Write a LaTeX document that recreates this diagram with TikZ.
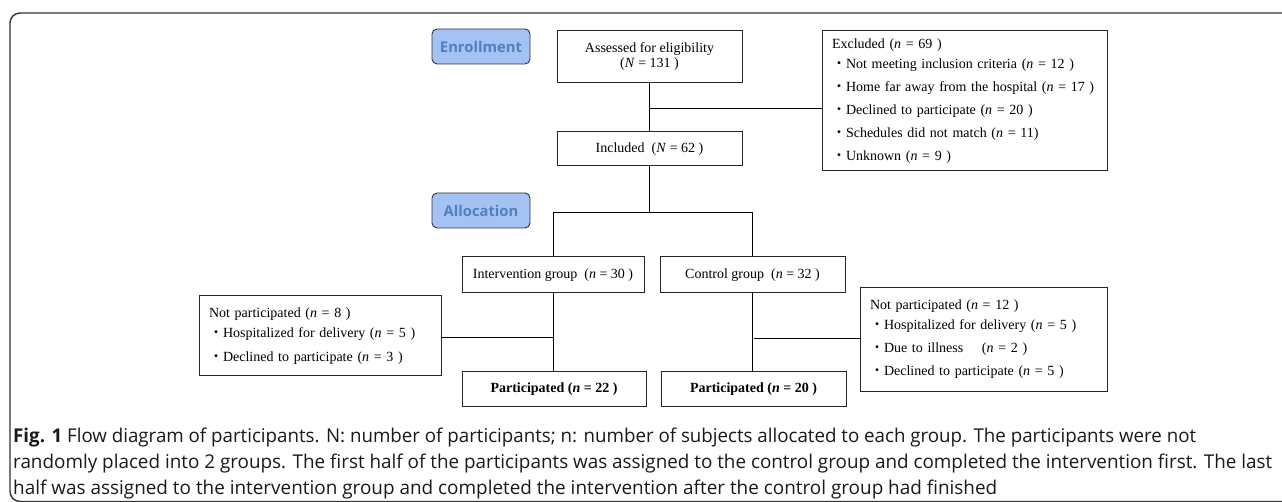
\documentclass[tikz,border=0pt]{standalone}
\usepackage{fontspec}
\usepackage{graphicx}
\setmainfont{Liberation Serif}
\newfontfamily\capfont{Open Sans}
\newfontfamily\badgefont{Open Sans}
\newfontfamily\cjk{Noto Sans CJK JP}
\definecolor{badgefill}{RGB}{164,194,244}
\definecolor{badgetext}{RGB}{79,129,189}
\newcommand{\bul}{{\cjk ・}}
\newcommand{\nn}{\textit{n}}
\begin{document}
\begin{tikzpicture}[x=1pt,y=-1pt,
  box/.style={draw=black!85, line width=1pt, fill=white, inner sep=0pt, align=center,
    font=\fontsize{14}{15}\selectfont},
  listbox/.style={draw=black!85, line width=1pt, fill=white, inner sep=0pt, align=left},
  badge/.style={draw=black!80, line width=0.9pt, fill=badgefill, rounded corners=5pt,
    text=badgetext, font=\badgefont\bfseries\fontsize{14.8}{16}\selectfont,
    minimum width=98pt, minimum height=35pt, inner sep=0pt},
  conn/.style={draw=black, line width=0.8pt},
  captext/.style={anchor=base west, inner sep=0pt, text=black!90, font=\capfont\fontsize{19}{22}\selectfont}]
\useasboundingbox (0,0) rectangle (1282,502);
\clip (0,0) rectangle (1282,502);
% frame
\draw[line width=1.4pt, black!80, rounded corners=10pt] (10,13) rectangle (1310,501.5);
% badges
\node[badge] (enr) at (481,46.5) {Enrollment};
\node[badge] (alloc) at (481,210.5) {Allocation};
% main boxes
\node[box, minimum width=185pt, minimum height=52pt] (assess) at (649.5,57) {Assessed for eligibility\\(\textit{N} = 131 )};
\node[box, minimum width=185pt, minimum height=34pt] (incl) at (649.5,149) {Included\ \ (\textit{N} = 62 )};
\node[listbox, minimum width=285pt, minimum height=140pt, text width=265pt,
  font=\fontsize{14}{23}\selectfont] (excl) at (964.5,101)
  {Excluded (\nn\ = 69 )\\[-3pt]
   \bul Not meeting inclusion criteria (\nn\ = 12 )\\
   \bul Home far away from the hospital (\nn\ = 17 )\\
   \bul Declined to participate (\nn\ = 20 )\\
   \bul Schedules did not match (\nn\ = 11)\\
   \bul Unknown (\nn\ = 9 )};
\node[box, minimum width=182pt, minimum height=36pt] (interv) at (553,275) {Intervention group\ \ (\nn\ = 30 )};
\node[box, minimum width=185pt, minimum height=36pt] (ctrl) at (752.5,275) {Control group\ \ (\nn\ = 32 )};
\node[listbox, minimum width=242pt, minimum height=80pt, text width=222pt,
  font=\fontsize{14}{24}\selectfont] (np1) at (320,336)
  {Not participated (\nn\ = 8 )\\[-4pt]
   \bul Hospitalized for delivery (\nn\ = 5 )\\
   \bul Declined to participate (\nn\ = 3 )};
\node[listbox, minimum width=247pt, minimum height=103pt, text width=227pt,
  font=\fontsize{14}{23}\selectfont] (np2) at (983.5,339.5)
  {Not participated (\nn\ = 12 )\\[-3pt]
   \bul Hospitalized for delivery (\nn\ = 5 )\\
   \bul Due to illness\ \ \ \ (\nn\ = 2 )\\
   \bul Declined to participate (\nn\ = 5 )};
\node[box, minimum width=184pt, minimum height=34pt, font=\bfseries\fontsize{14}{15}\selectfont] (part1) at (554,389) {Participated (\textit{n} = 22 )};
\node[box, minimum width=185pt, minimum height=34pt, font=\bfseries\fontsize{14}{15}\selectfont] (part2) at (753.5,389) {Participated (\textit{n} = 20 )};
% junction coordinates
\coordinate (j1) at (649.5,108);
\coordinate (j2) at (649.5,212);
\coordinate (j3) at (554,337);
\coordinate (j4) at (753.5,338);
% connectors
\draw[conn] (assess.south) -- (incl.north);
\draw[conn] (j1) -- (j1 -| excl.west);
\draw[conn] (incl.south) -- (j2);
\draw[conn] (interv.north) -- (interv.north |- j2) -- (ctrl.north |- j2) -- (ctrl.north);
\draw[conn] (interv.south) -- (interv.south |- part1.north);
\draw[conn] (j3) -- (j3 -| np1.east);
\draw[conn] (ctrl.south) -- (ctrl.south |- part2.north);
\draw[conn] (j4) -- (j4 -| np2.west);
% caption
\node[captext] (cap1) at (13,442) {\resizebox{1183pt}{\height}{{\bfseries Fig. 1} Flow diagram of participants. N: number of participants; n: number of subjects allocated to each group. The participants were not}};
\node[captext] (cap2) at (13,468) {\resizebox{1259pt}{\height}{randomly placed into 2 groups. The first half of the participants was assigned to the control group and completed the intervention first. The last}};
\node[captext] (cap3) at (13,494) {\resizebox{984pt}{\height}{half was assigned to the intervention group and completed the intervention after the control group had finished}};
\end{tikzpicture}
\end{document}
